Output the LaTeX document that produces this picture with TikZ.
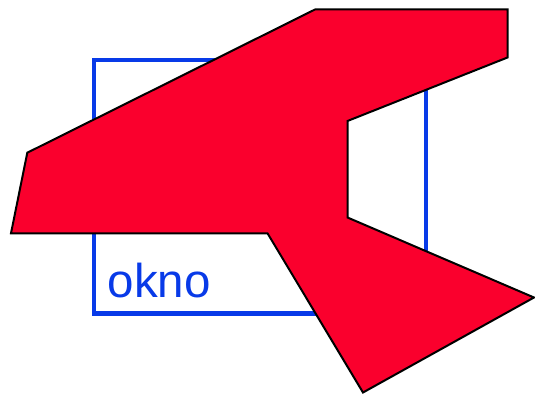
\documentclass[tikz,border=0pt]{standalone}
\usepackage{fontspec}
\setmainfont{Liberation Sans}
\usepackage{tikz}
\usetikzlibrary{calc}

\definecolor{oknoblue}{RGB}{8,58,232}
\definecolor{shapered}{RGB}{250,0,45}

\begin{document}
\begin{tikzpicture}[x=1pt,y=-1pt]
	\useasboundingbox (0,0) rectangle (535,395);
	\draw[color=oknoblue,line width=4.5pt] (94,60) rectangle (426,313.5);
	\node[anchor=base west,inner sep=0pt,text=oknoblue,font=\fontsize{47.5}{50}\selectfont] (L) at (107.5,297.5) {okno};
	\filldraw[fill=shapered,draw=black,line width=2pt,line join=miter]
	     (315,9.5) -- (507.5,9.5) -- (507.5,57.5) -- (347.5,121)
	     -- (347.5,217.5) -- (534,297.5) -- (363,392.5) -- (267.5,233.3)
	     -- (11,233.3) -- (27.3,152.7) -- cycle;
\end{tikzpicture}
\end{document}
